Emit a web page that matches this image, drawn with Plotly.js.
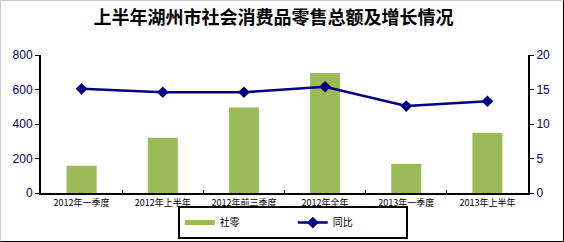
<!DOCTYPE html>
<html><head><meta charset="utf-8">
<script src="https://cdn.plot.ly/plotly-3.0.1.min.js"></script>
<style>html,body{margin:0;padding:0;background:#fff;}#c{width:562px;height:240px;border:1px solid #000;border-top-color:#ccc;border-left-color:#ccc;}</style>
</head><body><div id="c"></div>
<script>
const categories = ["2012年一季度","2012年上半年","2012年前三季度","2012年全年","2013年一季度","2013年上半年"];
const retail = [158, 321, 496, 695, 169, 350];
const yoy = [15.1, 14.6, 14.6, 15.4, 12.6, 13.3];
const leftTicks = [0,200,400,600,800];
const rightTicks = [0,5,10,15,20];

const data = [
  {type:'bar', x:categories, y:retail, name:'社零', marker:{color:'#9BBB59'}, yaxis:'y', showlegend:false},
  {type:'scatter', mode:'lines', x:[null], y:[null], name:'社零', line:{color:'#9BBB59', width:5}, yaxis:'y'},
  {type:'scatter', mode:'lines+markers', x:categories, y:yoy, name:'同比', yaxis:'y2',
   line:{color:'#000080', width:2.5}, marker:{symbol:'diamond', size:9, color:'#000080'}}
];
const layout = {
  width:562, height:240,
  margin:{l:40, r:35, t:54, b:48},
  paper_bgcolor:'#fff', plot_bgcolor:'#fff',
  font:{family:'"Liberation Sans", "Noto Sans CJK SC", sans-serif', color:'#000'},
  title:{text:'上半年湖州市社会消费品零售总额及增长情况', x:0.485, xanchor:'center', y:0.93, yanchor:'middle',
    font:{family:'"Noto Sans CJK SC", serif', size:18, color:'#000', weight:'bold'}},
  bargap:0.63,
  showlegend:true,
  legend:{orientation:'h', x:0.517, xanchor:'center', xref:'paper', yref:'container', y:0.008, yanchor:'bottom',
    bordercolor:'#000', borderwidth:2, font:{size:10, family:'"Noto Sans CJK SC", sans-serif'},
    traceorder:'normal', itemwidth:30, entrywidth:68, tracegroupgap:0},
  xaxis:{type:'category', showline:true, linecolor:'#000', linewidth:2, ticks:'inside', tickson:'boundaries',
    ticklen:3, tickcolor:'#000', tickangle:0, automargin:false,
    tickfont:{size:9, color:'#000', family:'"Noto Sans CJK SC", sans-serif'}, showgrid:false, zeroline:false},
  yaxis:{range:[0,800], tickvals:leftTicks, showline:true, linecolor:'#000', linewidth:2, ticks:'outside', ticklen:4,
    tickcolor:'#000', tickfont:{size:12, color:'#000060'}, showgrid:false, zeroline:false},
  yaxis2:{range:[0,20], tickvals:rightTicks, overlaying:'y', side:'right', showline:true, linecolor:'#000', linewidth:2,
    ticks:'outside', ticklen:4, tickcolor:'#000', tickfont:{size:12, color:'#000060'}, showgrid:false, zeroline:false}
};
Plotly.newPlot('c', data, layout, {displayModeBar:false, staticPlot:true});
</script></body></html>
